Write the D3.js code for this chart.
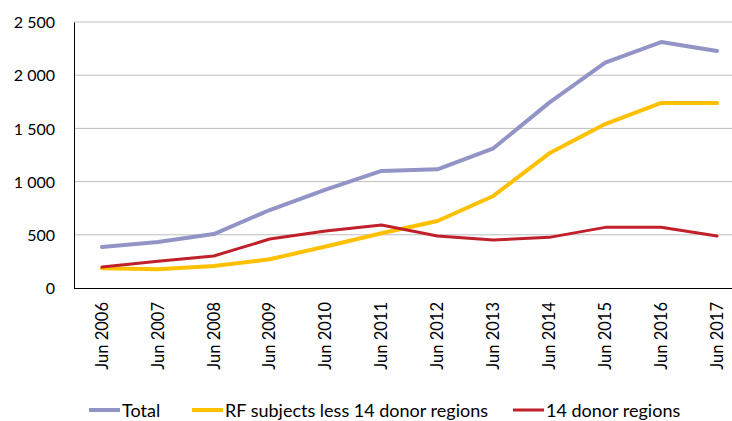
<!DOCTYPE html>
<html>
<head>
<meta charset="utf-8">
<script src="https://cdn.jsdelivr.net/npm/d3@7"></script>
<style>
  body { margin: 0; background: #fff; }
  text { font-family: Lato, "Open Sans", sans-serif; fill: #000; }
</style>
</head>
<body>
<svg id="chart" width="732" height="421"></svg>
<script>
const years = ['Jun 2006', 'Jun 2007', 'Jun 2008', 'Jun 2009', 'Jun 2010', 'Jun 2011',
  'Jun 2012', 'Jun 2013', 'Jun 2014', 'Jun 2015', 'Jun 2016', 'Jun 2017'];
const total = [385, 432, 507, 733, 925, 1100, 1115, 1313, 1742, 2118, 2312, 2227];
const rfLess = [185, 176, 207, 270, 390, 514, 630, 865, 1266, 1541, 1739, 1739];
const donors = [197, 251, 301, 460, 535, 592, 489, 451, 476, 570, 570, 489];
const yTicks = [0, 500, 1000, 1500, 2000, 2500];

const series = [
  { name: 'Total', values: total, color: '#9394C6', width: 4 },
  { name: 'RF subjects less 14 donor regions', values: rfLess, color: '#FFC000', width: 4 },
  { name: '14 donor regions', values: donors, color: '#C0202A', width: 3 }
];

const svg = d3.select('#chart');
const plotLeft = 74, plotTop = 22, plotBottom = 288, plotRight = 745;

const x = d3.scaleBand().domain(years).range([plotLeft, plotRight]);
const y = d3.scaleLinear().domain([0, 2500]).range([plotBottom, plotTop]);
const fmt = (v) => d3.format(',')(v).replace(',', ' ');

// grid
svg.append('g')
  .selectAll('line')
  .data(yTicks.slice(1))
  .join('line')
  .attr('x1', plotLeft).attr('x2', 732)
  .attr('y1', (d) => y(d)).attr('y2', (d) => y(d))
  .attr('stroke', '#BEBEBE').attr('stroke-width', 1);

// y axis
const yAxis = svg.append('g')
  .attr('transform', `translate(${plotLeft},0)`)
  .call(d3.axisLeft(y).tickValues(yTicks).tickFormat(fmt).tickSize(0).tickPadding(19));
yAxis.select('.domain').attr('stroke', '#000');
yAxis.selectAll('text').style('font-size', '16px').attr('dy', '0.35em');

// x axis
const xAxis = svg.append('g')
  .attr('transform', `translate(0,${plotBottom})`)
  .call(d3.axisBottom(x).tickSize(0).tickPadding(0));
xAxis.select('.domain').attr('stroke', '#000').attr('d', `M${plotLeft},0.5H732`);
xAxis.selectAll('text')
  .style('font-size', '16.5px')
  .attr('transform', 'rotate(-90)')
  .attr('text-anchor', 'end')
  .attr('x', -14)
  .attr('y', 0)
  .attr('dy', '0.35em');

// lines
const line = d3.line()
  .x((d, i) => x(years[i]) + x.bandwidth() / 2)
  .y((d) => y(d));

svg.append('g')
  .selectAll('path')
  .data(series)
  .join('path')
  .attr('d', (d) => line(d.values))
  .attr('fill', 'none')
  .attr('stroke', (d) => d.color)
  .attr('stroke-width', (d) => d.width)
  .attr('stroke-linejoin', 'round')
  .attr('stroke-linecap', 'round');

// legend
const legendX = [89, 192, 513];
const legend = svg.append('g')
  .selectAll('g')
  .data(series)
  .join('g')
  .attr('transform', (d, i) => `translate(${legendX[i]},410)`);
legend.append('line')
  .attr('x1', 0).attr('x2', 31)
  .attr('stroke', (d) => d.color)
  .attr('stroke-width', (d) => d.width);
legend.append('text')
  .attr('x', 33)
  .attr('y', 7)
  .style('font-size', '18px')
  .text((d) => d.name);
</script>
</body>
</html>
